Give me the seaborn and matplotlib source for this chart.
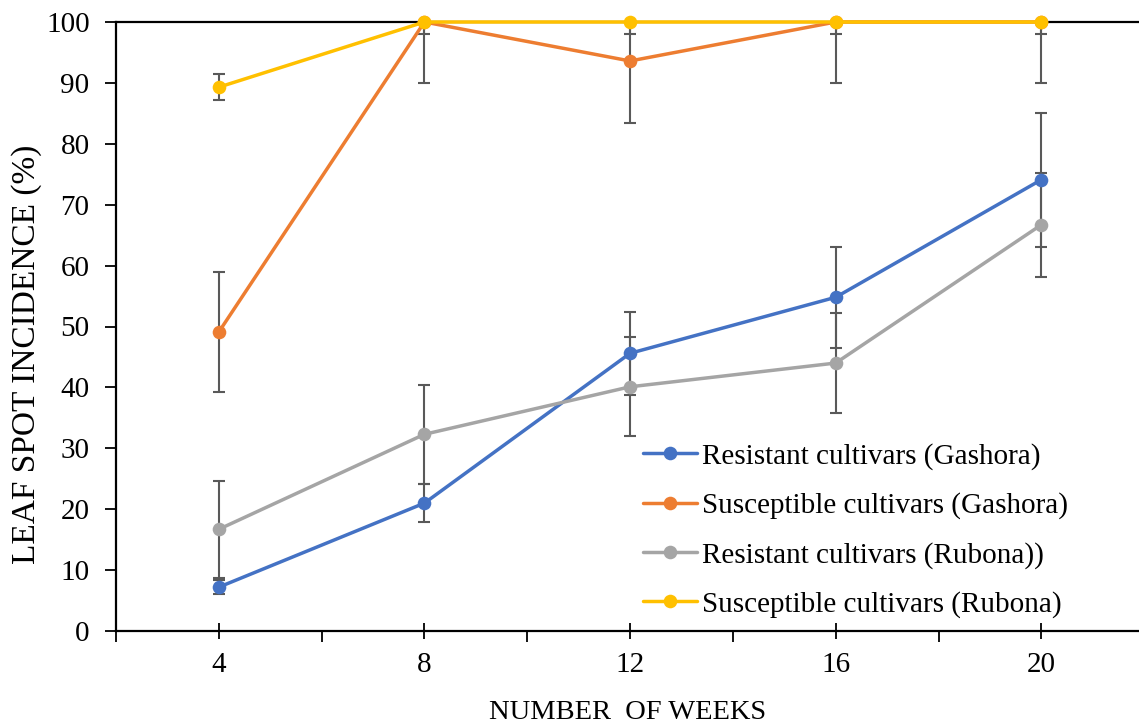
import matplotlib
matplotlib.use("Agg")
import matplotlib.pyplot as plt
import seaborn as sns
import pandas as pd

weeks = [4, 8, 12, 16, 20]
series_names = [
    "Resistant cultivars (Gashora)",
    "Susceptible cultivars (Gashora)",
    "Resistant cultivars (Rubona))",
    "Susceptible cultivars (Rubona)",
]
res_gashora = [7.2, 21.0, 45.6, 54.8, 74.1]
sus_gashora = [49.1, 100.0, 93.6, 100.0, 100.0]
res_rubona = [16.7, 32.3, 40.1, 44.0, 66.7]
sus_rubona = [89.3, 100.0, 100.0, 100.0, 100.0]

err_res_gashora = [1.1, 3.1, 6.8, 8.3, 11.0]
err_sus_gashora = [9.9, 10.0, 10.2, 10.0, 10.0]
err_res_rubona = [8.0, 8.1, 8.1, 8.2, 8.5]
err_sus_rubona = [2.1, 2.0, 2.0, 2.0, 2.0]

colors = ["#4472C4", "#ED7D31", "#A5A5A5", "#FFC000"]

values = [res_gashora, sus_gashora, res_rubona, sus_rubona]
errors = [err_res_gashora, err_sus_gashora, err_res_rubona, err_sus_rubona]

rows = []
for name, vals in zip(series_names, values):
    for w, v in zip(weeks, vals):
        rows.append({"week": w, "incidence": v, "series": name})
df = pd.DataFrame(rows)

sns.set_theme(style="white")
plt.rcParams["font.family"] = ["Liberation Serif", "DejaVu Serif"]
plt.rcParams["text.color"] = "black"
plt.rcParams["axes.labelcolor"] = "black"
plt.rcParams["xtick.color"] = "black"
plt.rcParams["ytick.color"] = "black"

fig = plt.figure(figsize=(11.39, 7.24), dpi=100)
ax = fig.add_axes([116 / 1139, 1 - 631 / 724, 1023 / 1139, 609 / 724])

# error bars first, below the lines (clipped at the top of the plot)
for vals, errs in zip(values, errors):
    ax.errorbar(weeks, vals, yerr=errs, fmt="none", ecolor="#595959",
                elinewidth=1.5, capsize=4.3, capthick=1.5, zorder=2)

n_before = len(ax.lines)
sns.lineplot(data=df, x="week", y="incidence", hue="series",
             hue_order=series_names, palette=colors, marker="o",
             markersize=9.8, markeredgewidth=0, linewidth=2.5,
             ax=ax, zorder=3)
for ln in ax.lines[n_before:]:
    ln.set_clip_on(False)

ax.set_xlim(2, 21.9)
ax.set_ylim(0, 100)
ax.set_xticks(weeks)
ax.set_xticks([2, 6, 10, 14, 18], minor=True)
ax.set_yticks(range(0, 101, 10))

ax.tick_params(axis="x", which="major", direction="inout", length=12,
               width=1.3, pad=9, labelsize=21)
ax.tick_params(axis="x", which="minor", direction="out", length=8,
               width=1.3)
ax.tick_params(axis="y", direction="out", length=8, width=1.3,
               pad=11, labelsize=21, left=True)
ax.tick_params(axis="x", bottom=True, which="both")

for side in ["left", "bottom", "top"]:
    ax.spines[side].set_color("black")
    ax.spines[side].set_linewidth(1.6)
ax.spines["right"].set_visible(False)

ax.set_xlabel("NUMBER  OF WEEKS", fontsize=20.5, labelpad=16)
ax.set_ylabel("LEAF SPOT INCIDENCE (%)", fontsize=24)
ax.yaxis.set_label_coords(-0.072, 0.455)

handles, labels = ax.get_legend_handles_labels()
ax.legend(handles, labels, loc="upper left", bbox_to_anchor=(0.515, 0.309),
          frameon=False, fontsize=21, handlelength=1.85, handletextpad=0.17,
          labelspacing=0.77, borderpad=0, borderaxespad=0)

fig.savefig("out.png", dpi=100)
